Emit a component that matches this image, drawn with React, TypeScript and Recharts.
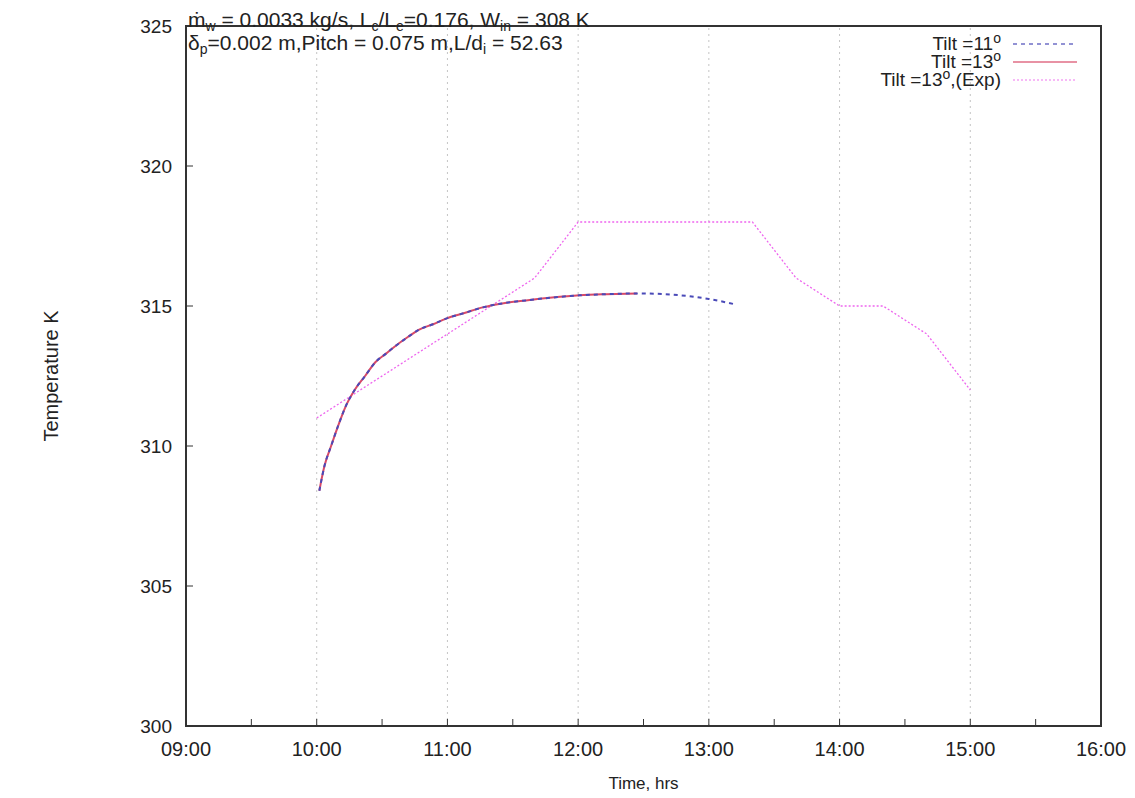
import React from 'react';
import { LineChart, Line, XAxis, YAxis, CartesianGrid, ReferenceLine, ReferenceArea } from 'recharts';

// time in decimal hours, temperature in K
const tilt13Time = [10.02, 10.06, 10.11, 10.17, 10.22, 10.29, 10.37, 10.45, 10.53, 10.61, 10.7, 10.78, 10.89, 10.99, 11.13, 11.27, 11.43, 11.6, 11.8, 12.01, 12.21, 12.45];
const tilt13Temp = [308.4, 309.3, 310.0, 310.8, 311.4, 312.0, 312.5, 313.0, 313.3, 313.6, 313.9, 314.15, 314.35, 314.55, 314.75, 314.95, 315.1, 315.2, 315.3, 315.38, 315.42, 315.45];

const tilt11Time = [...tilt13Time, 12.67, 12.85, 13.0, 13.21];
const tilt11Temp = [...tilt13Temp, 315.42, 315.35, 315.25, 315.05];

const expTime = [10, 11.667, 12, 13.333, 13.667, 14, 14.333, 14.667, 15];
const expTemp = [311, 316, 318, 318, 316, 315, 315, 314, 312];

const xTicks = [9, 9.5, 10, 10.5, 11, 11.5, 12, 12.5, 13, 13.5, 14, 14.5, 15, 15.5, 16];
const xGrid = [10, 11, 12, 13, 14, 15];
const yTicks = [300, 305, 310, 315, 320, 325];

const toRows = (t: number[], v: number[]) => t.map((x, i) => ({ time: x, temp: v[i] }));

const tilt11Data = toRows(tilt11Time, tilt11Temp);
const tilt13Data = toRows(tilt13Time, tilt13Temp);
const expData = toRows(expTime, expTemp);

const FONT = '"Liberation Sans", Arial, Helvetica, sans-serif';
const TXT = '#222';
const GRID = '#c4c4c4';
const AXIS = '#333';

const series = [
  { key: 'Tilt =11', sup: 'o', extra: '', color: '#4a4ab8', dash: '4 4', width: 2 },
  { key: 'Tilt =13', sup: 'o', extra: '', color: '#d84a68', dash: undefined, width: 2 },
  { key: 'Tilt =13', sup: 'o', extra: ',(Exp)', color: '#ee66ee', dash: '2 2', width: 1.3 },
];

const fmtHour = (v: number) => (Number.isInteger(v) ? `${String(v).padStart(2, '0')}:00` : '');

const LegendBox = () => (
  <div style={{ fontFamily: FONT, fontSize: 19, color: TXT }}>
    {series.map((s, i) => (
      <div key={i} style={{ display: 'flex', alignItems: 'center', justifyContent: 'flex-end', height: 18, lineHeight: '18px' }}>
        <span style={{ whiteSpace: 'nowrap' }}>
          {s.key}
          <sup style={{ fontSize: 14, lineHeight: 0 }}>{s.sup}</sup>
          {s.extra}
        </span>
        <svg width={78} height={10} style={{ marginLeft: 12 }}>
          <line x1={0} x2={64} y1={5} y2={5} stroke={s.color} strokeWidth={s.width} strokeDasharray={s.dash} strokeOpacity={0.6} />
        </svg>
      </div>
    ))}
  </div>
);

const sub = { fontSize: 14, lineHeight: 0, verticalAlign: '-4px' } as const;

export default function App() {
  return (
    <div style={{ position: 'relative', width: 1127, height: 790, background: '#fff' }}>
      <LineChart width={1127} height={790} margin={{ top: 17, right: 33, left: 0, bottom: 0 }}>
        <CartesianGrid vertical={false} stroke={GRID} strokeDasharray="2 4" />
        {xGrid.map((v) => (
          <ReferenceLine key={v} xAxisId="bottom" yAxisId="left" x={v} stroke={GRID} strokeDasharray="2 4" />
        ))}
        <XAxis
          xAxisId="bottom"
          dataKey="time"
          type="number"
          domain={[9, 16]}
          ticks={xTicks}
          interval={0}
          tickFormatter={fmtHour}
          height={72}
          tickSize={-7}
          tickMargin={23}
          axisLine={{ stroke: AXIS, strokeWidth: 2 }}
          tickLine={{ stroke: AXIS }}
          tick={{ fill: TXT, fontSize: 20, fontFamily: FONT }}
          allowDataOverflow
          label={{ value: 'Time, hrs', position: 'insideBottom', offset: 9, fill: TXT, fontSize: 17, fontFamily: FONT }}
        />
        <XAxis
          xAxisId="top"
          orientation="top"
          dataKey="time"
          type="number"
          domain={[9, 16]}
          ticks={xTicks}
          interval={0}
          tickFormatter={() => ''}
          height={1}
          tickSize={-7}
          axisLine={{ stroke: AXIS, strokeWidth: 2 }}
          tickLine={{ stroke: AXIS }}
        />
        <YAxis
          yAxisId="left"
          type="number"
          domain={[300, 325]}
          ticks={yTicks}
          interval={0}
          width={178}
          tickSize={-7}
          tickMargin={21}
          axisLine={{ stroke: AXIS, strokeWidth: 2 }}
          tickLine={{ stroke: AXIS }}
          tick={{ fill: TXT, fontSize: 19, fontFamily: FONT }}
          label={{ value: 'Temperature K', angle: -90, position: 'insideLeft', offset: 43, fill: TXT, fontSize: 20, fontFamily: FONT, style: { textAnchor: 'middle' } }}
        />
        <YAxis
          yAxisId="right"
          orientation="right"
          type="number"
          domain={[300, 325]}
          ticks={yTicks}
          interval={0}
          width={1}
          tickSize={-7}
          tickFormatter={() => ''}
          axisLine={{ stroke: AXIS, strokeWidth: 2 }}
          tickLine={{ stroke: AXIS }}
        />
        <ReferenceArea
          xAxisId="bottom"
          yAxisId="left"
          x1={9}
          x2={16}
          y1={300}
          y2={325}
          fill="none"
          fillOpacity={0}
          stroke={AXIS}
          strokeWidth={2}
        />
        <Line
          xAxisId="bottom"
          yAxisId="left"
          data={expData}
          dataKey="temp"
          type="linear"
          stroke="#ee66ee"
          strokeWidth={1.3}
          strokeDasharray="2 2"
          dot={false}
          isAnimationActive={false}
        />
        <Line
          xAxisId="bottom"
          yAxisId="left"
          data={tilt13Data}
          dataKey="temp"
          type="monotone"
          stroke="#d84a68"
          strokeWidth={2}
          dot={false}
          isAnimationActive={false}
        />
        <Line
          xAxisId="bottom"
          yAxisId="left"
          data={tilt11Data}
          dataKey="temp"
          type="monotone"
          stroke="#4a4ab8"
          strokeWidth={2}
          strokeDasharray="4 4"
          dot={false}
          isAnimationActive={false}
        />
      </LineChart>
      <div style={{ position: 'absolute', top: 27, right: 44 }}>
        <LegendBox />
      </div>
      <div style={{ position: 'absolute', left: 180, top: 0, fontFamily: FONT, fontSize: 21, color: TXT, lineHeight: '23px', whiteSpace: 'nowrap' }}>
        <div>
          ṁ<span style={sub}>w</span> = 0.0033 kg/s, L<span style={sub}>c</span>/L<span style={sub}>e</span>=0.176, W<span style={sub}>in</span> = 308 K
        </div>
        <div>
          δ<span style={sub}>p</span>=0.002 m,Pitch = 0.075 m,L/d<span style={sub}>i</span> = 52.63
        </div>
      </div>
    </div>
  );
}
